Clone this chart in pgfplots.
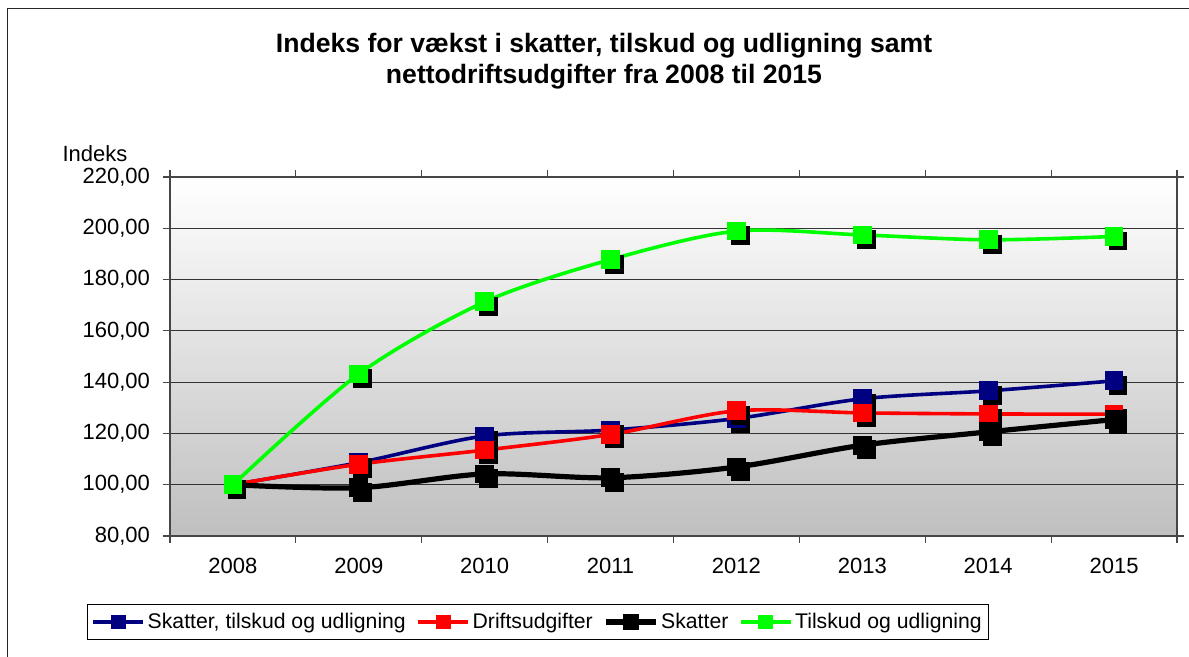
\documentclass[border=0pt]{standalone}
\usepackage{pgfplots}
\pgfplotsset{compat=1.18}
\usepackage{fontspec}
\setmainfont{Liberation Sans}
\definecolor{navy}{RGB}{0,0,128}
\definecolor{lgreen}{RGB}{0,255,0}
\definecolor{axgray}{RGB}{70,70,70}
\pgfdeclareplotmark{shsq}{%
  \begin{pgfscope}
  \pgfsetfillcolor{black}
  \pgfpathrectangle{\pgfpoint{-\pgfplotmarksize+2pt}{-\pgfplotmarksize-2.3pt}}{\pgfpoint{2\pgfplotmarksize}{2\pgfplotmarksize}}
  \pgfusepathqfill
  \end{pgfscope}
  \pgfpathrectangle{\pgfpoint{-\pgfplotmarksize}{-\pgfplotmarksize}}{\pgfpoint{2\pgfplotmarksize}{2\pgfplotmarksize}}
  \pgfusepathqfill
}
\begin{document}
\begin{tikzpicture}
\useasboundingbox (0,0) rectangle (594.5pt,328.5pt);
\draw[black!85, line width=0.7pt] (3.6pt,-2pt) -- (3.6pt,324.2pt) -- (600pt,324.2pt);
\node[font=\bfseries\fontsize{13.3}{15.5}\selectfont, align=center] at (302pt,298pt)
  {Indeks for vækst i skatter, tilskud og udligning samt\\nettodriftsudgifter fra 2008 til 2015};
\node[font=\fontsize{11}{13}\selectfont] at (47.5pt,251.5pt) {Indeks};
\begin{axis}[
  at={(85pt,60.5pt)}, anchor=south west,
  width=503.5pt, height=179.5pt, scale only axis,
  xmin=-0.5, xmax=7.5, ymin=80, ymax=220,
  ytick={80,100,...,220},
  xtick={0,1,2,3,4,5,6,7},
  xticklabels={2008,2009,2010,2011,2012,2013,2014,2015},
  minor xtick={-0.5,0.5,...,7.5},
  major x tick style={draw=none},
  tick align=outside,
  major tick length=3.5pt, minor tick length=3.5pt,
  ymajorgrids,
  major grid style={black!80, line width=0.5pt},
  axis line style={axgray, line width=0.6pt},
  every tick/.style={axgray, line width=0.6pt},
  axis background/.style={top color=white, bottom color=black!25},
  y tick label style={xshift=-3pt, /pgf/number format/.cd, fixed, fixed zerofill, precision=2, use comma, 1000 sep={}},
  /pgf/number format/assume math mode=true,
  tick label style={font=\fontsize{11}{13}\selectfont},
  x tick label style={yshift=-3.8pt},
  legend columns=4,
  legend style={at={(0.3654,-0.2396)}, anchor=center, draw=black, line width=0.5pt,
    font=\fontsize{10.6}{12}\selectfont, inner xsep=2pt, inner ysep=2.2pt,
    nodes={inner xsep=1.3pt},
    /tikz/every even column/.append style={column sep=4pt}},
  legend image code/.code={%
    \draw[#1] (0pt,0pt) -- (25pt,0pt);
    \path[#1, mark=square*, mark size=2.8pt] plot coordinates {(12.5pt,0pt)};},
]
\addplot[navy, line width=1.8pt, smooth, tension=0.5, mark=shsq, mark size=4.7pt]
  coordinates {(0,100) (1,108.6) (2,119.0) (3,121.3) (4,125.8) (5,133.5) (6,136.6) (7,140.5)};
\addlegendentry{Skatter, tilskud og udligning}
\addplot[red, line width=1.8pt, smooth, tension=0.5, mark=shsq, mark size=4.7pt]
  coordinates {(0,100) (1,108.0) (2,113.5) (3,119.6) (4,128.8) (5,128.0) (6,127.6) (7,127.5)};
\addlegendentry{Driftsudgifter}
\addplot[black, line width=2.6pt, smooth, tension=0.5, mark=shsq, mark size=4.7pt]
  coordinates {(0,100) (1,98.8) (2,104.2) (3,102.7) (4,106.9) (5,115.4) (6,120.6) (7,125.4)};
\addlegendentry{Skatter}
\addplot[lgreen, line width=1.8pt, smooth, tension=0.5, mark=shsq, mark size=4.7pt]
  coordinates {(0,100) (1,143.2) (2,171.3) (3,187.8) (4,198.9) (5,197.4) (6,195.5) (7,196.8)};
\addlegendentry{Tilskud og udligning}
\end{axis}
\end{tikzpicture}
\end{document}
